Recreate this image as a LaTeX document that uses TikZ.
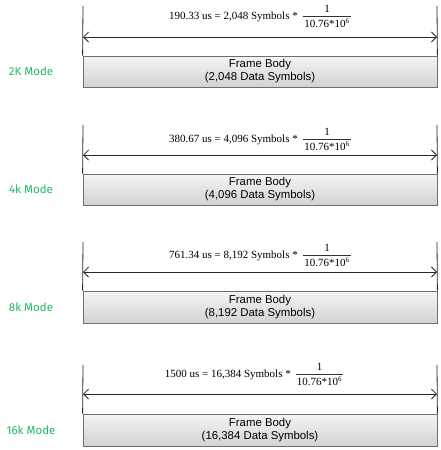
\documentclass[tikz,border=0pt]{standalone}
\usepackage{fontspec}
\setmainfont{Liberation Serif}
\newfontfamily\boxfont{Liberation Sans}
\newfontfamily\labfont{Fira Sans}
\usetikzlibrary{arrows.meta,shadows,calc}
\definecolor{modegreen}{RGB}{34,184,96}
\definecolor{edgegray}{RGB}{110,110,110}
\tikzset{
  dimline/.style={draw=black!85, line width=0.8pt},
  dimarrow/.style={dimline, {Straight Barb[length=5pt,width=10pt]}-{Straight Barb[length=5pt,width=10pt]}},
  framebox/.style={draw=edgegray, line width=0.8pt, top color=gray!8, bottom color=gray!35,
    minimum width=354pt, inner sep=0pt, align=center, font=\boxfont\fontsize{11.4}{13}\selectfont,
    drop shadow={shadow xshift=0.8pt, shadow yshift=-1.2pt, opacity=0.45, fill=black!60}},
  formula/.style={inner sep=0pt, font=\fontsize{11}{13}\selectfont},
  modelabel/.style={inner sep=0pt, text=modegreen, font=\labfont\fontsize{11.5}{13}\selectfont}
}
% #1 id, #2 vline top, #3 bar y, #4 arrow y, #5 box top, #6 box bottom, #7 formula, #8 count, #9 label
\newcommand\modeblock[9]{%
  \pgfmathsetmacro\bh{#6-#5}%
  \pgfmathsetmacro\bm{(#6+#5)/2}%
  \coordinate (tl#1) at (83,#2);
  \coordinate (tr#1) at (437,#2);
  \coordinate (al#1) at (83,#4);
  \coordinate (ar#1) at (437,#4);
  \node[framebox, minimum height=\bh pt] (box#1) at (260,\bm) {Frame Body\\(#8 Data Symbols)};
  \draw[dimline] (tl#1) -- (box#1.north west);
  \draw[dimline] (tr#1) -- (box#1.north east);
  \draw[dimarrow] (al#1) -- (ar#1);
  \coordinate (bl#1) at (\fxl,#3);
  \coordinate (br#1) at (\fxr,#3);
  \draw[line width=0.6pt, black!80] (bl#1) -- (br#1);
  \node[formula, anchor=base east] (eq#1) at ([xshift=-5pt,yshift=-3.5pt]bl#1) {#7};
  \node[formula, anchor=base] (num#1) at ([yshift=3.5pt]$(bl#1)!0.5!(br#1)$) {1};
  \node[formula, anchor=base] (den#1) at ([yshift=-11.5pt]$(bl#1)!0.5!(br#1)$) {10.76*10\textsuperscript{\scriptsize 6}};
  \node[modelabel] (lab#1) at (31,\bm) {#9};
}
\begin{document}
\begin{tikzpicture}[x=1pt,y=-1pt]
\useasboundingbox (0,0) rectangle (440,450);
\def\fxl{303}\def\fxr{351}
\modeblock{a}{6}{16}{37}{56}{87}{190.33 us = 2,048 Symbols *}{2,048}{2K Mode}
\modeblock{b}{125}{139}{155}{174}{205}{380.67 us = 4,096 Symbols *}{4,096}{4k Mode}
\modeblock{c}{242}{255}{272}{291}{323}{761.34 us = 8,192 Symbols *}{8,192}{8k Mode}
\def\fxl{296}\def\fxr{343}
\modeblock{d}{365}{374}{394}{414}{446}{1500 us = 16,384 Symbols *}{16,384}{16k Mode}
\end{tikzpicture}
\end{document}
